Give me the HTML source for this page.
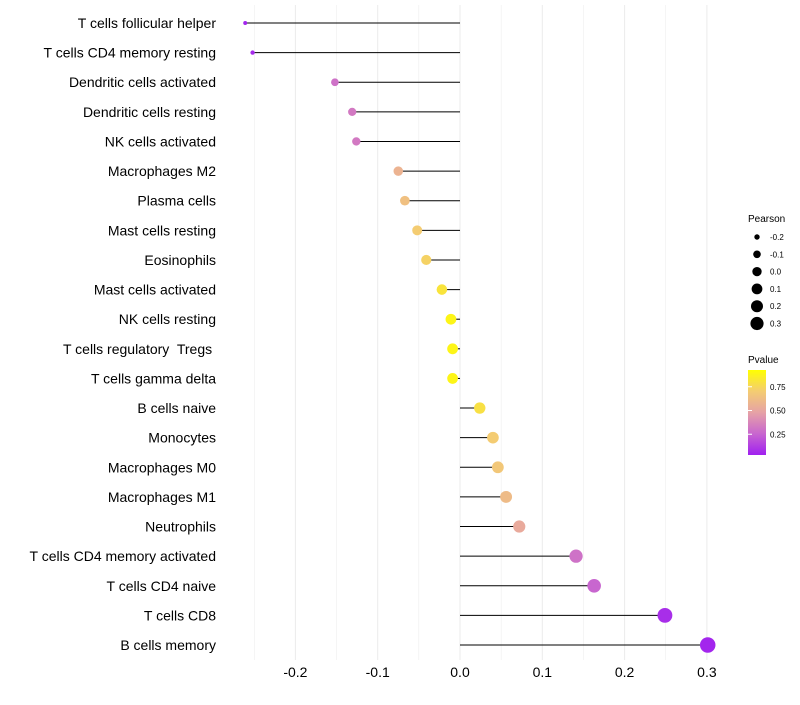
<!DOCTYPE html>
<html><head><meta charset="utf-8"><style>
body{margin:0;background:#fff;font-family:"Liberation Sans",sans-serif}
</style></head><body>
<svg id="chart" width="800" height="700" xmlns="http://www.w3.org/2000/svg" font-family="Liberation Sans, sans-serif">
<g id="grid"></g><g id="marks"></g><g id="ylabels"></g><g id="xticks"></g>
<g id="legend">
<text x="748" y="222" font-size="10">Pearson</text>
<g id="sizeLegend"></g>
<text x="748" y="363" font-size="10">Pvalue</text>
<defs><linearGradient id="pg" x1="0" y1="1" x2="0" y2="0">
<stop offset="0" stop-color="#a020f0"/><stop offset="0.25" stop-color="#c866cf"/><stop offset="0.5" stop-color="#e6a2a6"/><stop offset="0.75" stop-color="#f4cc72"/><stop offset="1" stop-color="#ffff00"/></linearGradient></defs>
<rect x="748" y="370" width="18" height="85" fill="url(#pg)"/>
<g id="colorTicks"></g>
</g>
</svg>
<script>
const categories=["T cells follicular helper","T cells CD4 memory resting","Dendritic cells activated","Dendritic cells resting","NK cells activated","Macrophages M2","Plasma cells","Mast cells resting","Eosinophils","Mast cells activated","NK cells resting","T cells regulatory  Tregs ","T cells gamma delta","B cells naive","Monocytes","Macrophages M0","Macrophages M1","Neutrophils","T cells CD4 memory activated","T cells CD4 naive","T cells CD8","B cells memory"];
const pearson=[-0.261,-0.252,-0.152,-0.131,-0.126,-0.075,-0.067,-0.052,-0.041,-0.022,-0.011,-0.009,-0.009,0.024,0.040,0.046,0.056,0.072,0.141,0.163,0.249,0.301];
const pvalue=[0.02,0.04,0.30,0.33,0.33,0.60,0.68,0.75,0.78,0.87,0.95,0.95,0.95,0.85,0.75,0.72,0.65,0.55,0.30,0.25,0.05,0.02];
const xTicks=[-0.2,-0.1,0.0,0.1,0.2,0.3];
const xTickLabels=["-0.2","-0.1","0.0","0.1","0.2","0.3"];
const sizeLegendVals=[-0.2,-0.1,0.0,0.1,0.2,0.3];
const colorTickVals=[0.25,0.5,0.75];
const colorTickLabels=["0.25","0.50","0.75"];
const NS="http://www.w3.org/2000/svg";
const x=v=>460+v*823;
const y=i=>23+i*(622/21);
const r=v=>Math.sqrt(Math.max(1,4+(v+0.26)*100));
const stops=[[0,[160,32,240]],[0.25,[200,102,207]],[0.5,[230,162,166]],[0.75,[244,204,114]],[1,[255,255,0]]];
function col(p){for(let k=1;k<stops.length;k++){if(p<=stops[k][0]){const a=stops[k-1],b=stops[k],t=(p-a[0])/(b[0]-a[0]);return `rgb(${a[1].map((c,j)=>Math.round(c+(b[1][j]-c)*t)).join(',')})`;}}return 'rgb(255,255,0)';}
function mk(tag,attrs,parent,text){const e=document.createElementNS(NS,tag);for(const k in attrs)e.setAttribute(k,attrs[k]);if(text!==undefined)e.textContent=text;document.getElementById(parent).appendChild(e);return e;}
for(let v=-0.25;v<=0.301;v+=0.05){const g=mk('line',{x1:x(v),x2:x(v),y1:5,y2:660,stroke:'#ebebeb','stroke-width':Math.abs(Math.round(v*100)%10)<1?1:0.5},'grid');

}
categories.forEach((c,i)=>{
const l=mk('line',{x1:x(0),x2:x(pearson[i]),y1:y(i),y2:y(i),stroke:'#000','stroke-width':1},'marks');


const p=mk('circle',{cx:x(pearson[i]),cy:y(i),r:r(pearson[i]),fill:col(pvalue[i])},'marks');


const t=mk('text',{x:216,y:y(i)+5,'text-anchor':'end','font-size':14,fill:'#000'},'ylabels',c);


t.setAttribute('xml:space','preserve');t.style.whiteSpace='pre';
});
xTicks.forEach((v,i)=>{const t=mk('text',{x:x(v),y:677,'text-anchor':'middle','font-size':14,fill:'#000'},'xticks',xTickLabels[i]);

});
sizeLegendVals.forEach((v,i)=>{const cy=237+i*17.3;
const c=mk('circle',{cx:757,cy:cy,r:r(v)*0.85,fill:'#000'},'sizeLegend');


const t=mk('text',{x:770,y:cy+3,'font-size':8},'sizeLegend',v.toFixed(1));

});
colorTickVals.forEach((v,i)=>{const cy=458-v*95;
const l=mk('line',{x1:748,x2:752,y1:cy,y2:cy,stroke:'#fff'},'colorTicks');


const t=mk('text',{x:770,y:cy+3,'font-size':8},'colorTicks',colorTickLabels[i]);

});
</script>
</body></html>
